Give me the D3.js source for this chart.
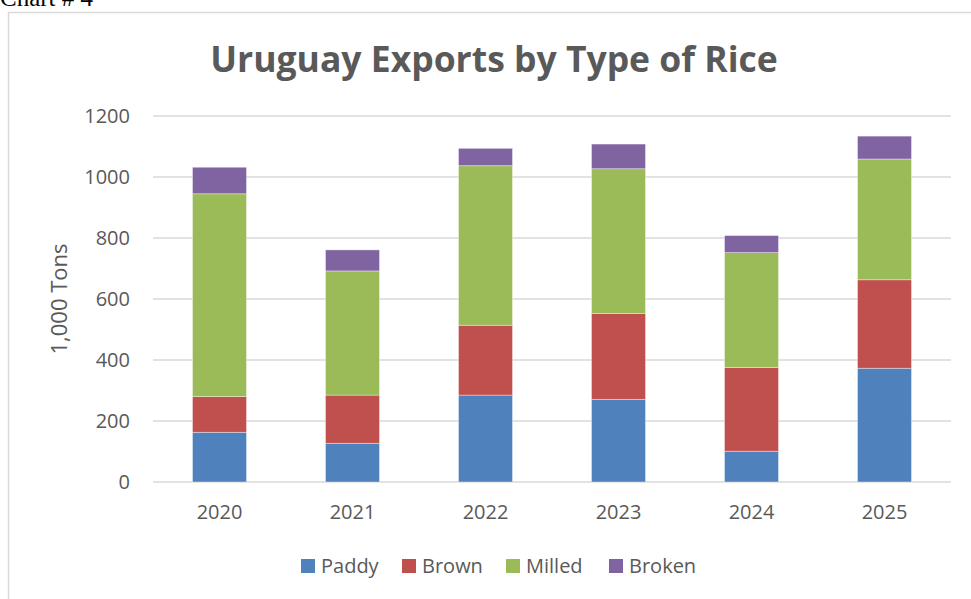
<!DOCTYPE html>
<html>
<head>
<meta charset="utf-8">
<script src="https://cdn.jsdelivr.net/npm/d3@7"></script>
<style>
  html, body { margin: 0; padding: 0; background: #fff; overflow: hidden; }
  svg { display: block; }
</style>
</head>
<body>
<script>
const YEARS  = ["2020", "2021", "2022", "2023", "2024", "2025"]
const SERIES = ["Paddy", "Brown", "Milled", "Broken"]
const PADDY  = [163, 127, 285, 271, 101, 373]
const BROWN  = [117, 158, 229, 282, 274, 290]
const MILLED = [665, 407, 523, 474, 377, 396]
const BROKEN = [87, 69, 57, 81, 56, 75]
const Y_TICKS = [0, 200, 400, 600, 800, 1000, 1200]
const COLORS = ["#4F81BD", "#C0504D", "#9BBB59", "#8064A2"]

let width = 971, height = 599
let margin = { top: 116, right: 20, bottom: 117, left: 153 }
let innerW = 951 - margin.left
let innerH = 482 - margin.top

const rows = YEARS.map((y, i) => ({
  year: y, Paddy: PADDY[i], Brown: BROWN[i], Milled: MILLED[i], Broken: BROKEN[i]
}))
const stacked = d3.stack().keys(SERIES)(rows)

const svg = d3.select("body").append("svg")
  .attr("width", width)
  .attr("height", height)

// caption above the chart box, mostly clipped off
svg.append("text")
  .attr("x", 0).attr("y", 6)
  .attr("font-family", "Liberation Serif, serif")
  .attr("font-size", 25)
  .attr("fill", "#000")
  .text("Chart # 4")

// chart frame
svg.append("rect")
  .attr("x", 8.5).attr("y", 12.5)
  .attr("width", 1000).attr("height", 700)
  .attr("fill", "#fff")
  .attr("stroke", "#D9D9D9")
  .attr("stroke-width", 1.5)

const xScale = d3.scaleBand()
  .domain(YEARS)
  .range([0, innerW])
  .paddingInner(0.594)
  .paddingOuter(0.297)
const yScale = d3.scaleLinear()
  .domain([0, 1200])
  .range([innerH, 0])

const g = svg.append("g")
  .attr("transform", `translate(${margin.left},${margin.top})`)

// gridlines
g.append("g")
  .selectAll("line").data(Y_TICKS).join("line")
  .attr("x1", 0).attr("x2", innerW)
  .attr("y1", d => yScale(d)).attr("y2", d => yScale(d))
  .attr("stroke", "#D9D9D9")
  .attr("stroke-width", 1.5)

// y axis labels
const yAxis = g.append("g")
  .call(d3.axisLeft(yScale).tickValues(Y_TICKS).tickFormat(d3.format("d")).tickSize(0).tickPadding(23))
yAxis.select(".domain").remove()
yAxis.selectAll("text")
  .attr("font-family", "Open Sans, sans-serif")
  .attr("font-size", 20)
  .attr("fill", "#595959")

// x axis labels
const xAxis = g.append("g")
  .attr("transform", `translate(0,${innerH})`)
  .call(d3.axisBottom(xScale).tickSize(0).tickPadding(23))
xAxis.select(".domain").remove()
xAxis.selectAll("text")
  .attr("font-family", "Open Sans, sans-serif")
  .attr("font-size", 20)
  .attr("fill", "#595959")

// bars
g.append("g")
  .selectAll("g").data(stacked).join("g")
  .attr("fill", (d, i) => COLORS[i])
  .selectAll("rect").data(d => d).join("rect")
  .attr("x", d => xScale(d.data.year))
  .attr("width", xScale.bandwidth())
  .attr("y", d => yScale(d[1]))
  .attr("height", d => yScale(d[0]) - yScale(d[1]))
  .attr("stroke", "#fff")
  .attr("stroke-opacity", 0.5)
  .attr("stroke-width", 0.75)

// title
svg.append("text")
  .attr("x", 494).attr("y", 72)
  .attr("text-anchor", "middle")
  .attr("font-family", "Open Sans, sans-serif")
  .attr("font-weight", "bold")
  .attr("font-size", 35.5)
  .attr("fill", "#595959")
  .text("Uruguay Exports by Type of Rice")

// y axis title
svg.append("text")
  .attr("transform", `translate(67,${margin.top + innerH / 2}) rotate(-90)`)
  .attr("text-anchor", "middle")
  .attr("font-family", "Open Sans, sans-serif")
  .attr("font-size", 22)
  .attr("fill", "#595959")
  .text("1,000 Tons")

// legend
const legendX = [301, 402, 506, 609]
const legend = svg.append("g")
  .selectAll("g").data(SERIES).join("g")
  .attr("transform", (d, i) => `translate(${legendX[i]},566)`)
legend.append("rect")
  .attr("x", 0).attr("y", -7)
  .attr("width", 14).attr("height", 14)
  .attr("fill", (d, i) => COLORS[i])
legend.append("text")
  .attr("x", 20).attr("y", 7)
  .attr("font-family", "Open Sans, sans-serif")
  .attr("font-size", 20)
  .attr("fill", "#595959")
  .text(d => d)
</script>
</body>
</html>
